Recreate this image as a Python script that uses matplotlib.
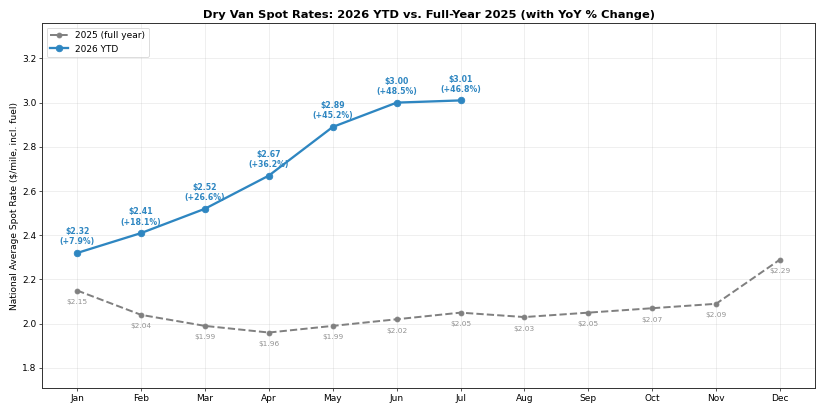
import matplotlib
matplotlib.use('Agg')
import matplotlib.pyplot as plt
import numpy as np

months = ['Jan', 'Feb', 'Mar', 'Apr', 'May', 'Jun', 'Jul', 'Aug', 'Sep', 'Oct', 'Nov', 'Dec']
rates_2025 = [2.15, 2.04, 1.99, 1.96, 1.99, 2.02, 2.05, 2.03, 2.05, 2.07, 2.09, 2.29]
rates_2026 = [2.32, 2.41, 2.52, 2.67, 2.89, 3.00, 3.01]

blue = '#2E86C1'
x25 = np.arange(len(rates_2025))
x26 = np.arange(len(rates_2026))

fig, ax = plt.subplots(figsize=(14, 7.01), dpi=825 / 14)

ax.plot(x25, rates_2025, color='gray', linestyle='--', linewidth=2.4,
        marker='o', markersize=6, label='2025 (full year)')
ax.plot(x26, rates_2026, color=blue, linewidth=2.8,
        marker='o', markersize=8, label='2026 YTD')

# 2025 labels below points
for i, v in enumerate(rates_2025):
    ax.annotate(f'${v:.2f}', (i, v), textcoords='offset points', xytext=(0, -14),
                ha='center', va='center', fontsize=9, color='gray', alpha=0.85)

# 2026 labels with YoY change
for i, v in enumerate(rates_2026):
    yoy = (v / rates_2025[i] - 1) * 100
    ax.annotate(f'${v:.2f}\n({yoy:+.1f}%)', (i, v), textcoords='offset points',
                xytext=(0, 8), ha='center', va='bottom', fontsize=9.5,
                fontweight='bold', color=blue)

ax.set_xticks(x25)
ax.set_xticklabels(months, fontsize=11)
ax.tick_params(axis='y', labelsize=11)
ax.set_ylim(min(rates_2025) - 0.25, max(rates_2026) + 0.35)
ax.set_ylabel('National Average Spot Rate ($/mile, incl. fuel)', fontsize=11)
ax.set_title('Dry Van Spot Rates: 2026 YTD vs. Full-Year 2025 (with YoY % Change)',
             fontsize=14, fontweight='bold')
ax.grid(True, alpha=0.3)
for s in ax.spines.values():
    s.set_color('#333333')
    s.set_linewidth(1.2)
ax.legend(loc='upper left', fontsize=11)

fig.subplots_adjust(left=0.051, right=0.988, top=0.944, bottom=0.061)
fig.savefig('out.png', dpi=825 / 14)
